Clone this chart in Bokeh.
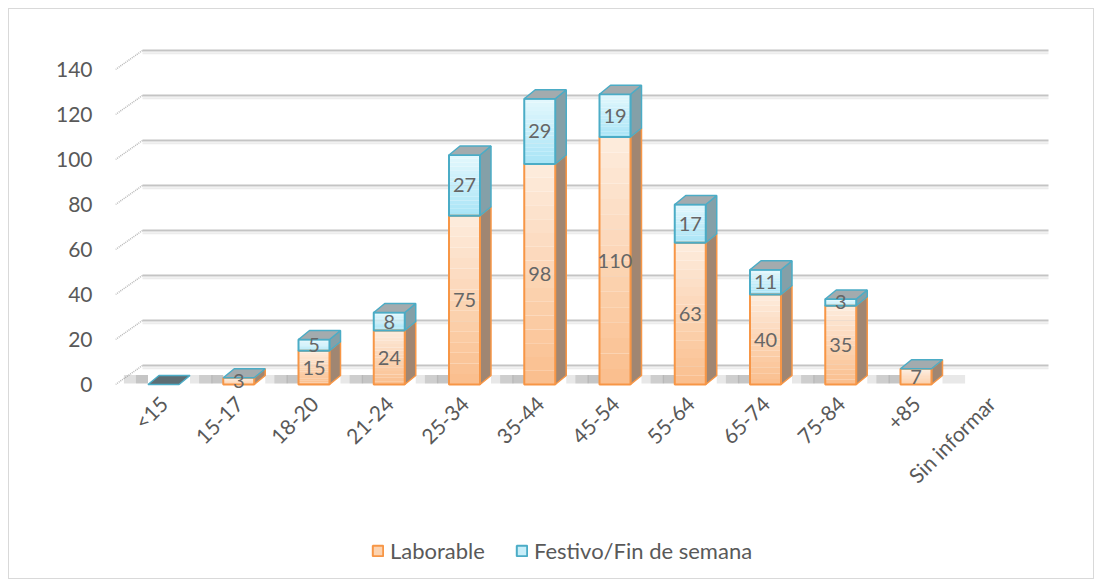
from bokeh.plotting import figure
from bokeh.layouts import column
from bokeh.models import FixedTicker, Range1d, ColumnDataSource, Legend, LegendItem
from bokeh.embed import file_html
from bokeh.resources import INLINE
from bokeh.core.properties import value
import math

# ---------------- data ----------------
categories = ["<15", "15-17", "18-20", "21-24", "25-34", "35-44", "45-54",
              "55-64", "65-74", "75-84", "+85", "Sin informar"]
laborable = [0, 3, 15, 24, 75, 98, 110, 63, 40, 35, 7, None]
festivo = [0, 0, 5, 8, 27, 29, 19, 17, 11, 3, 0, None]
y_ticks = [0, 20, 40, 60, 80, 100, 120, 140]
series_names = ["Laborable", "Festivo/Fin de semana"]

# ---------------- layout ----------------
W, H, HL = 1084, 520, 49
BL, BR, BT, BB = 106, 43, 32, 138
frame_w = W - BL - BR
frame_h = H - BT - BB
px_x = 75.25
px_y = 2.25
x0 = -48.0 / px_x
x1 = x0 + frame_w / px_x
y0 = -7.0 / px_y
y1 = y0 + frame_h / px_y

half = 15.5 / px_x          # half width of bar front
dxb = 11.0 / px_x           # bar depth offset x
dyb = 9.0 / px_y            # bar depth offset y
dxw = 27.0 / px_x           # wall depth offset x
dyw = 19.0 / px_y           # wall depth offset y

FONT = "Lato"
GRAY = "#595959"
LBL = "#666666"
OR_LINE = "#f79646"
BL_LINE = "#4bacc6"
OR_TOP, OR_BOT = (253, 236, 222), (250, 190, 140)
BL_TOP, BL_BOT = (228, 248, 253), (168, 228, 246)
OR_SIDE = "#a08672"
BL_SIDE = "#84a0a8"
CAP = "#a3abae"
CAP_FLAT = "#5d6e74"

p = figure(width=W, height=H, output_backend="svg", toolbar_location=None,
           x_range=Range1d(x0, x1), y_range=Range1d(y0, y1),
           min_border_left=BL, min_border_right=BR, min_border_top=BT,
           min_border_bottom=BB, background_fill_color="white",
           border_fill_color="white", outline_line_color=None)
p.xgrid.visible = False
p.ygrid.visible = False

# ---------------- back grid lines & dotted wall ticks ----------------
gx0 = [x0 + dxw] * len(y_ticks)
gx1 = [x1 - 2.0 / px_x] * len(y_ticks)
gy = [v + dyw for v in y_ticks]
p.segment(x0=gx0, y0=gy, x1=gx1, y1=gy, line_color="#c4c4c4", line_width=2)
p.segment(x0=gx0, y0=[v + dyw - 1.2 for v in y_ticks], x1=gx1,
          y1=[v + dyw - 1.2 for v in y_ticks], line_color="#ececec", line_width=2)
p.segment(x0=[x0] * len(y_ticks), y0=y_ticks, x1=gx0, y1=gy,
          line_color="#b8b8b8", line_width=1.5, line_dash="1 1")


def lerp(a, b, t):
    return "#%02x%02x%02x" % tuple(int(round(a[k] + (b[k] - a[k]) * t)) for k in range(3))


strips = dict(left=[], right=[], bottom=[], top=[], color=[])
outl_o = dict(left=[], right=[], bottom=[], top=[])
outl_b = dict(left=[], right=[], bottom=[], top=[])
side = dict(xs=[], ys=[], fill=[], line=[])
caps = dict(xs=[], ys=[], fill=[])
shadow = dict(left=[], right=[], alpha=[])
labels = dict(x=[], y=[], text=[])

N = 16
for i, (lab, fes) in enumerate(zip(laborable, festivo)):
    if lab is None:
        continue
    l, r = i - half, i + half
    segs = [(0, lab, OR_TOP, OR_BOT, OR_SIDE, OR_LINE, outl_o),
            (lab, lab + fes, BL_TOP, BL_BOT, BL_SIDE, BL_LINE, outl_b)]
    shadow["left"] += [l - 0.32, l - 0.16, r + dxb]
    shadow["right"] += [l - 0.16, l, r + dxb + 0.3]
    shadow["alpha"] += [0.25, 0.45, 0.18]
    for (b, t, ctop, cbot, cside, cline, outl) in segs:
        if t - b <= 0:
            continue
        for k in range(N):
            sb = b + (t - b) * k / N
            st = b + (t - b) * (k + 1) / N
            strips["left"].append(l)
            strips["right"].append(r)
            strips["bottom"].append(sb)
            strips["top"].append(st)
            strips["color"].append(lerp(cbot, ctop, (k + 0.5) / N))
        outl["left"].append(l)
        outl["right"].append(r)
        outl["bottom"].append(b)
        outl["top"].append(t)
        side["xs"].append([r, r + dxb, r + dxb, r])
        side["ys"].append([b, b + dyb, t + dyb, t])
        side["fill"].append(cside)
        side["line"].append(cline)
        labels["x"].append(i)
        labels["y"].append((b + t) / 2.0)
        labels["text"].append(str(int(t - b)))
    T = lab + fes
    caps["xs"].append([l, l + dxb, r + dxb, r])
    caps["ys"].append([T, T + dyb, T + dyb, T])
    caps["fill"].append(CAP if T > 0 else CAP_FLAT)

p.quad(left="left", right="right", bottom=0.4, top=4.2, fill_color="#7f7f7f",
       fill_alpha="alpha", line_color=None, source=ColumnDataSource(shadow))
p.patches(xs="xs", ys="ys", fill_color="fill", line_color="line", line_width=1.5,
          source=ColumnDataSource(side))
p.quad(left="left", right="right", bottom="bottom", top="top", fill_color="color",
       line_color=None, source=ColumnDataSource(strips))
p.quad(left="left", right="right", bottom="bottom", top="top", fill_color=None,
       line_color=OR_LINE, line_width=2, source=ColumnDataSource(outl_o))
p.quad(left="left", right="right", bottom="bottom", top="top", fill_color=None,
       line_color=BL_LINE, line_width=2, source=ColumnDataSource(outl_b))
p.patches(xs="xs", ys="ys", fill_color="fill", line_color=BL_LINE, line_width=1.5,
          source=ColumnDataSource(caps))
p.text(x="x", y="y", text="text", text_align="center", text_baseline="middle",
       text_font=value(FONT), text_font_size="20px", text_color=LBL,
       source=ColumnDataSource(labels))

# ---------------- axes ----------------
p.yaxis.ticker = FixedTicker(ticks=y_ticks)
p.yaxis.axis_line_color = None
p.yaxis.major_tick_line_color = None
p.yaxis.minor_tick_line_color = None
p.yaxis.major_label_standoff = 17
p.yaxis.major_label_text_font = FONT
p.yaxis.major_label_text_font_size = "21px"
p.yaxis.major_label_text_color = GRAY

p.xaxis.ticker = FixedTicker(ticks=list(range(len(categories))))
p.xaxis.major_label_overrides = {i: c for i, c in enumerate(categories)}
p.xaxis.major_label_orientation = math.pi / 4
p.xaxis.axis_line_color = None
p.xaxis.major_tick_line_color = None
p.xaxis.minor_tick_line_color = None
p.xaxis.major_label_standoff = 2
p.xaxis.major_label_text_font = FONT
p.xaxis.major_label_text_font_size = "21px"
p.xaxis.major_label_text_color = GRAY

# ---------------- legend (separate strip below the chart) ----------------
pl = figure(width=W, height=HL, output_backend="svg", toolbar_location=None,
            x_range=Range1d(0, 1), y_range=Range1d(0, 1), min_border=0,
            x_axis_type=None, y_axis_type=None, outline_line_color=None,
            background_fill_color="white", border_fill_color="white")
pl.xgrid.visible = False
pl.ygrid.visible = False
r1 = pl.quad(left=[5], right=[6], bottom=[5], top=[6], fill_color="#fcd3b0",
             line_color=OR_LINE, line_width=2)
r2 = pl.quad(left=[5], right=[6], bottom=[5], top=[6], fill_color="#c8eef9",
             line_color=BL_LINE, line_width=2)
legend = Legend(items=[LegendItem(label=series_names[0], renderers=[r1]),
                       LegendItem(label=series_names[1], renderers=[r2])],
                location=(256, 14), orientation="horizontal",
                label_text_font=FONT, label_text_font_size="22px",
                label_text_color=GRAY, glyph_width=13, glyph_height=13,
                label_standoff=6, spacing=30, padding=0, margin=0,
                border_line_color=None, background_fill_alpha=0)
pl.add_layout(legend, "center")

page = column(p, pl, spacing=0,
              styles={"border": "1px solid #d9d9d9", "margin": "8px 0 0 8px",
                      "background-color": "white"})

open("out.html", "w").write(file_html(page, INLINE))
